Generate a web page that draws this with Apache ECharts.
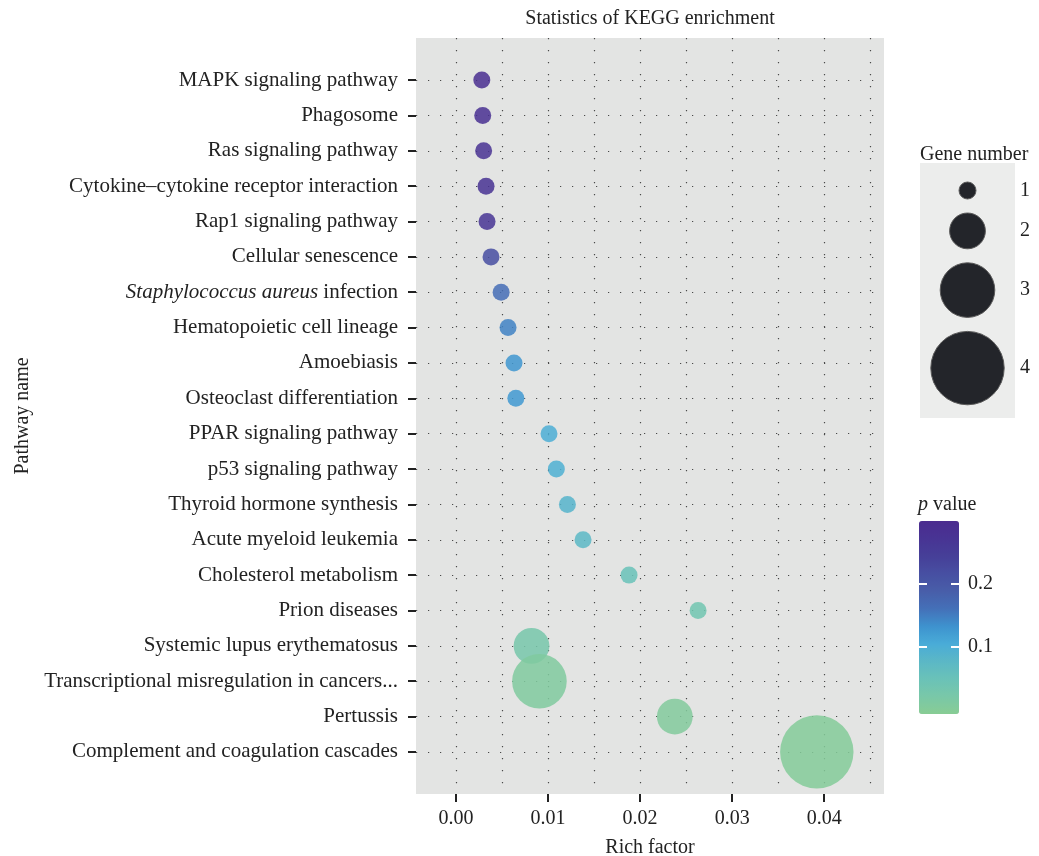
<!DOCTYPE html>
<html>
<head>
<meta charset="utf-8">
<script src="https://cdn.jsdelivr.net/npm/echarts@6/dist/echarts.min.js"></script>
<style>html,body{margin:0;padding:0;background:#fff;}#c{width:1039px;height:856px;}</style>
</head>
<body>
<div id="c"></div>
<script>
// ---- data ----
const pathways = [
  'MAPK signaling pathway', 'Phagosome', 'Ras signaling pathway',
  'Cytokine\u2013cytokine receptor interaction', 'Rap1 signaling pathway',
  'Cellular senescence', 'Staphylococcus aureus infection',
  'Hematopoietic cell lineage', 'Amoebiasis', 'Osteoclast differentiation',
  'PPAR signaling pathway', 'p53 signaling pathway', 'Thyroid hormone synthesis',
  'Acute myeloid leukemia', 'Cholesterol metabolism', 'Prion diseases',
  'Systemic lupus erythematosus', 'Transcriptional misregulation in cancers...',
  'Pertussis', 'Complement and coagulation cascades'
];
const richFactor = [0.0028, 0.0029, 0.0030, 0.00326, 0.00337, 0.0038, 0.0049, 0.00565, 0.0063, 0.0065,
  0.0101, 0.0109, 0.0121, 0.0138, 0.0188, 0.0263, 0.0082, 0.00906, 0.02377, 0.0392];
const pValue = [0.29, 0.285, 0.28, 0.275, 0.27, 0.22, 0.165, 0.145, 0.128, 0.125,
  0.100, 0.095, 0.085, 0.075, 0.050, 0.035, 0.025, 0.008, 0.004, 0.0005];
const geneNumber = [1, 1, 1, 1, 1, 1, 1, 1, 1, 1, 1, 1, 1, 1, 1, 1, 2, 3, 2, 4];
const italicPart = { 'Staphylococcus aureus infection': 'Staphylococcus aureus' };

const xTickValues = [0, 0.01, 0.02, 0.03, 0.04];
const xGridValues = [0, 0.005, 0.01, 0.015, 0.02, 0.025, 0.03, 0.035, 0.04, 0.045];
const legendGenes = [1, 2, 3, 4];
const pTickValues = [0.1, 0.2];
const pRange = [-0.007, 0.300];
const xRange = [-0.00435, 0.0465];

// ---- styles ----
const FONT = 'Liberation Serif';
const colorStops = ['#88cc94', '#79c8a8', '#6ac2b8', '#5bb7c6', '#49acd8', '#3e92ce',
  '#4470b8', '#485ea9', '#474fa2', '#463f98', '#483494', '#4b2c8f'];
function sizeOf(g) { return 18.8 * g - 1.8; }

const yIdx = pathways.map((_, i) => i);
const data = pathways.map((p, i) => [richFactor[i], i, pValue[i], geneNumber[i]]);

// legend key layout computed from symbol sizes (key height = size + pad)
const keyPad = 14, keyTop = 12;
const legendCenters = [];
let acc = keyTop;
legendGenes.forEach(g => { const h = sizeOf(g) + keyPad; legendCenters.push(acc + h / 2); acc += h; });
const legendBoxH = 255;
const legendData = legendGenes.map((g, i) => [0.5, legendCenters[i], g]);

const dotted = { color: '#4a4a4a', width: 1.2, type: [1.2, 10.8] };
const TXT = '#222';

const chart = echarts.init(document.getElementById('c'), null, { renderer: 'canvas' });
chart.setOption({
  backgroundColor: '#ffffff',
  animation: false,
  textStyle: { fontFamily: FONT },
  title: [
    { text: 'Statistics of KEGG enrichment', left: 650, top: 9, textAlign: 'center', padding: 0,
      textStyle: { fontFamily: FONT, fontSize: 20, fontWeight: 'normal', color: TXT } },
    { text: 'Gene number', left: 920, top: 145, padding: 0,
      textStyle: { fontFamily: FONT, fontSize: 20, fontWeight: 'normal', color: TXT } },
    { text: '{i|p} value', left: 918, top: 495, padding: 0,
      textStyle: { fontFamily: FONT, fontSize: 20, fontWeight: 'normal', color: TXT,
        rich: { i: { fontFamily: FONT, fontSize: 20, fontStyle: 'italic', color: TXT } } } }
  ],
  grid: [
    { left: 416, right: 155, top: 38, bottom: 62, show: true, backgroundColor: '#e3e4e3', borderWidth: 0,
      containLabel: false, outerBoundsMode: 'none' },
    { left: 919, top: 521, width: 40, height: 193, show: false, containLabel: false, outerBoundsMode: 'none' },
    { left: 920, top: 163, width: 95, height: legendBoxH, show: true, backgroundColor: '#ecedec', borderWidth: 0,
      containLabel: false, outerBoundsMode: 'none' }
  ],
  xAxis: [
    { gridIndex: 0, type: 'value', min: xRange[0], max: xRange[1], position: 'bottom',
      name: 'Rich factor', nameLocation: 'middle', nameGap: 44,
      nameTextStyle: { fontFamily: FONT, fontSize: 20, color: TXT },
      axisLine: { show: false, onZero: false },
      axisTick: { show: true, length: 8, customValues: xTickValues, lineStyle: { color: TXT, width: 2 } },
      axisLabel: { show: true, customValues: xTickValues, margin: 15, fontFamily: FONT, fontSize: 20, color: TXT,
        formatter: v => v.toFixed(2) },
      splitLine: { show: false } },
    { gridIndex: 0, type: 'value', min: xRange[0], max: xRange[1], position: 'top',
      axisLine: { show: false, onZero: false }, axisLabel: { show: false },
      axisTick: { show: false, customValues: xGridValues },
      splitLine: { show: true, lineStyle: dotted } },
    { gridIndex: 1, type: 'value', min: 0, max: 1, show: false },
    { gridIndex: 2, type: 'value', min: 0, max: 1, show: false }
  ],
  yAxis: [
    { gridIndex: 0, type: 'value', inverse: true, min: -1.19, max: 20.19, position: 'left',
      name: 'Pathway name', nameLocation: 'middle', nameGap: 383, nameRotate: 90,
      nameTextStyle: { fontFamily: FONT, fontSize: 20, color: TXT },
      axisLine: { show: false, onZero: false },
      axisTick: { show: true, length: 8, customValues: yIdx, lineStyle: { color: TXT, width: 2 } },
      axisLabel: { show: true, customValues: yIdx, margin: 18, fontFamily: FONT, fontSize: 21, color: TXT,
        formatter: v => {
          const name = pathways[Math.round(v)];
          if (!name) return '';
          const it = italicPart[name];
          return it ? '{i|' + it + '}' + name.slice(it.length) : name;
        },
        rich: { i: { fontFamily: FONT, fontSize: 21, fontStyle: 'italic', color: TXT } } },
      splitLine: { show: true, lineStyle: dotted } },
    { gridIndex: 1, type: 'value', min: pRange[0], max: pRange[1], position: 'left', z: 10,
      axisLine: { show: false, onZero: false }, axisLabel: { show: false },
      axisTick: { show: true, inside: true, length: 8, customValues: pTickValues, lineStyle: { color: '#ffffff', width: 2 } },
      splitLine: { show: false } },
    { gridIndex: 1, type: 'value', min: pRange[0], max: pRange[1], position: 'right', z: 10,
      axisLine: { show: false, onZero: false },
      axisTick: { show: true, inside: true, length: 8, customValues: pTickValues, lineStyle: { color: '#ffffff', width: 2 } },
      axisLabel: { show: true, customValues: pTickValues, margin: 9, fontFamily: FONT, fontSize: 20, color: TXT,
        formatter: v => v.toFixed(1) },
      splitLine: { show: false } },
    { gridIndex: 2, type: 'value', inverse: true, min: 0, max: legendBoxH, position: 'right',
      axisLine: { show: false, onZero: false }, axisTick: { show: false },
      axisLabel: { show: true, customValues: legendCenters, margin: 5, fontFamily: FONT, fontSize: 20, color: TXT,
        formatter: v => { const i = legendCenters.findIndex(c => Math.abs(c - v) < 0.01); return i >= 0 ? String(legendGenes[i]) : ''; } },
      splitLine: { show: false } }
  ],
  visualMap: {
    type: 'continuous', seriesIndex: 0, dimension: 2,
    min: pRange[0], max: pRange[1], calculable: false, show: true,
    left: 919, top: 521, itemWidth: 40, itemHeight: 193, padding: 0,
    inRange: { color: colorStops }, text: null, hoverLink: false
  },
  series: [
    { type: 'scatter', xAxisIndex: 0, yAxisIndex: 0, data: data, z: 5,
      symbolSize: d => sizeOf(d[3]),
      itemStyle: { opacity: 0.85 } },
    { type: 'scatter', xAxisIndex: 3, yAxisIndex: 3, data: legendData,
      symbolSize: d => sizeOf(d[2]),
      itemStyle: { color: '#23252a', borderColor: '#5a5a5a', borderWidth: 1, opacity: 1 } }
  ]
});
</script>
</body>
</html>
